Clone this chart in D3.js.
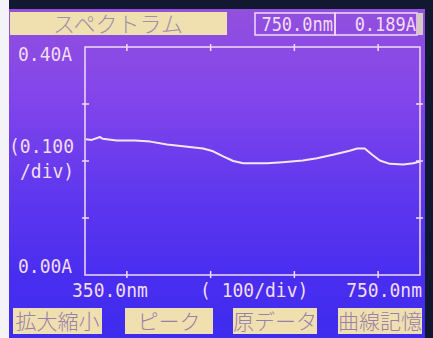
<!DOCTYPE html>
<html>
<head>
<meta charset="utf-8">
<script src="https://cdn.jsdelivr.net/npm/d3@7"></script>
<style>
  body { margin: 0; background: #f4f4f8; }
  svg { display: block; }
</style>
</head>
<body>
<div id="chart"></div>
<script>
// spectrum
const wavelengths = [351, 358, 368, 371, 388, 410, 428, 448, 467, 491, 503, 515, 527, 539, 567, 586, 610, 627, 646, 666, 675, 684, 693, 702, 714, 730, 742, 750];
const absorbance = [0.238, 0.237, 0.242, 0.239, 0.236, 0.236, 0.234, 0.229, 0.226, 0.222, 0.217, 0.208, 0.200, 0.196, 0.196, 0.198, 0.201, 0.205, 0.211, 0.218, 0.222, 0.222, 0.211, 0.201, 0.195, 0.194, 0.196, 0.199];
const xTicks = [400, 500, 600, 700];
const yTicks = [0.1, 0.2, 0.3];
const buttons = ['拡大縮小', 'ピーク', '原データ', '曲線記憶'];
const title = 'スペクトラム';
const cursorNm = '750.0nm';
const cursorAbs = '0.189A';

const width = 433, height = 338;
const plot = { left: 85, right: 420, top: 47, bottom: 275 };
const ink = '#f2dcf2';
const beige = '#f0e0b0';
const mono = '"DejaVu Sans Mono", monospace';
const jp = '"Noto Sans CJK JP", sans-serif';

const svg = d3.select('#chart').append('svg').attr('width', width).attr('height', height);

const defs = svg.append('defs');
const grad = defs.append('linearGradient').attr('id', 'lcd').attr('x1', 0).attr('y1', 0).attr('x2', 0).attr('y2', 1);
grad.append('stop').attr('offset', '0%').attr('stop-color', '#9250de');
grad.append('stop').attr('offset', '25%').attr('stop-color', '#8446ea');
grad.append('stop').attr('offset', '55%').attr('stop-color', '#6038ee');
grad.append('stop').attr('offset', '80%').attr('stop-color', '#4a2ef0');
grad.append('stop').attr('offset', '100%').attr('stop-color', '#3e2cee');

// bezel + screen
svg.append('rect').attr('width', width).attr('height', height).attr('fill', '#f4f4f8');
svg.append('rect').attr('x', 9).attr('y', 0).attr('width', width - 9).attr('height', height).attr('fill', '#121830');
svg.append('rect').attr('x', 9).attr('y', 9).attr('width', 416).attr('height', 329).attr('fill', 'url(#lcd)');

const x = d3.scaleLinear().domain([350, 750]).range([plot.left, plot.right]);
const y = d3.scaleLinear().domain([0, 0.4]).range([plot.bottom, plot.top]);

// LCD style text: a bit taller than wide
const lcdText = function (tx, ty, s, size, anchor) {
  svg.append('text')
    .attr('transform', 'translate(' + tx + ',' + ty + ') scale(1,1.12)')
    .attr('text-anchor', anchor || 'start')
    .attr('font-family', mono).attr('font-size', size).attr('fill', ink).text(s);
};

// header
svg.append('rect').attr('x', 10).attr('y', 12).attr('width', 217).attr('height', 23).attr('fill', beige);
svg.append('text').attr('x', 118).attr('y', 32).attr('text-anchor', 'middle')
  .attr('font-family', jp).attr('font-size', 22).attr('font-weight', 300).attr('fill', '#a090a8')
  .text(title);

svg.append('rect').attr('x', 255).attr('y', 13).attr('width', 80).attr('height', 22)
  .attr('fill', 'none').attr('stroke', ink).attr('stroke-width', 1.5);
svg.append('rect').attr('x', 335).attr('y', 13).attr('width', 82).attr('height', 22)
  .attr('fill', 'none').attr('stroke', ink).attr('stroke-width', 1.5);
svg.append('rect').attr('x', 417).attr('y', 13).attr('width', 6).attr('height', 22).attr('fill', '#d8c8c8');
lcdText(333, 31, cursorNm, 17, 'end');
lcdText(416, 31, cursorAbs, 17, 'end');

// frame
svg.append('rect').attr('x', plot.left).attr('y', plot.top)
  .attr('width', plot.right - plot.left).attr('height', plot.bottom - plot.top)
  .attr('fill', 'none').attr('stroke', ink).attr('stroke-width', 1.5);

const ticks = svg.append('g').attr('stroke', ink).attr('stroke-width', 1.5);
xTicks.forEach(function (d) {
  ticks.append('line').attr('x1', x(d)).attr('x2', x(d)).attr('y1', plot.top - 3).attr('y2', plot.top + 4);
  ticks.append('line').attr('x1', x(d)).attr('x2', x(d)).attr('y1', plot.bottom - 4).attr('y2', plot.bottom + 3);
});
yTicks.forEach(function (d) {
  ticks.append('line').attr('x1', plot.left - 3).attr('x2', plot.left + 4).attr('y1', y(d)).attr('y2', y(d));
  ticks.append('line').attr('x1', plot.right - 4).attr('x2', plot.right + 3).attr('y1', y(d)).attr('y2', y(d));
});

// spectrum curve
const line = d3.line()
  .x(function (d, i) { return x(wavelengths[i]); })
  .y(function (d) { return y(d); });
svg.append('path').datum(absorbance)
  .attr('d', line)
  .attr('fill', 'none').attr('stroke', '#f6e6f2').attr('stroke-width', 2).attr('stroke-linejoin', 'round');

// axis labels
lcdText(18, 61, d3.format('.2f')(0.4) + 'A', 18);
lcdText(18, 273, d3.format('.2f')(0) + 'A', 18);
lcdText(9, 153, '(0.100', 18);
lcdText(20, 178, '/div)', 18);
lcdText(72, 297, '350.0nm', 18);
lcdText(200, 297, '( 100/div)', 18);
lcdText(422, 297, '750.0nm', 18, 'end');

// soft buttons
const btnX = [13, 125, 233, 338];
const btnW = [89, 88, 84, 84];
buttons.forEach(function (b, i) {
  svg.append('rect').attr('x', btnX[i]).attr('y', 308).attr('width', btnW[i]).attr('height', 26).attr('fill', beige);
  svg.append('text').attr('x', btnX[i] + btnW[i] / 2).attr('y', 329).attr('text-anchor', 'middle')
    .attr('font-family', jp).attr('font-size', 21).attr('font-weight', 300).attr('fill', '#9880a8').text(b);
});
</script>
</body>
</html>
